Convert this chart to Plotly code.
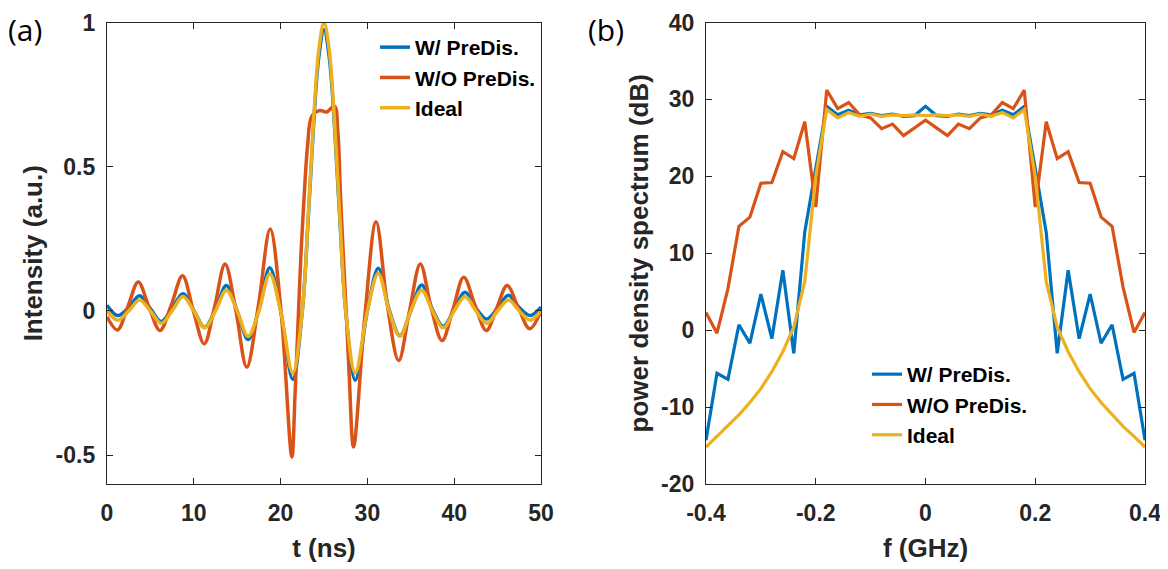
import plotly.graph_objects as go

# ---------------- Panel (a): time domain ----------------
t_a = [0, 1.25, 2.5, 3.75, 5, 6.25, 7.5, 8.75, 10, 11.25, 12.5, 13.75, 15, 16.25, 17.5,
       18.75, 20, 21.4, 22.5, 23.2, 23.75, 24.4, 25, 25.6, 26.25, 26.8, 27.5, 28.6, 30,
       31.25, 32.5, 33.75, 35, 36.25, 37.5, 38.75, 40, 41.25, 42.5, 43.75, 45, 46.25,
       47.5, 48.75, 50]
ideal_a = [0.0, -0.032, 0.0, 0.038, 0.0, -0.043, 0.0, 0.05, 0.0, -0.058, 0.0, 0.072, 0.0,
           -0.088, 0.0, 0.128, 0.0, -0.215, 0.0, 0.34, 0.635, 0.905, 1.0, 0.905, 0.635,
           0.34, 0.0, -0.215, 0.0, 0.13, 0.0, -0.088, 0.0, 0.072, 0.0, -0.058, 0.0, 0.05,
           0.0, -0.043, 0.0, 0.038, 0.0, -0.032, 0.0]
with_a = [0.02, -0.016, 0.012, 0.053, 0.008, -0.037, 0.008, 0.06, 0.002, -0.057, 0.005,
          0.088, 0.0, -0.099, 0.005, 0.15, 0.0, -0.237, 0.0, 0.33, 0.62, 0.88, 0.975, 0.88,
          0.62, 0.33, 0.0, -0.24, 0.0, 0.148, 0.005, -0.086, 0.0, 0.09, 0.005, -0.053,
          0.005, 0.065, 0.01, -0.028, 0.01, 0.054, 0.012, -0.016, 0.013]
t_wo = [0, 1.2, 2.4, 3.6, 4.85, 6.1, 7.4, 8.7, 9.95, 11.2, 12.4, 13.6, 14.85, 16.1, 17.45,
        18.8, 20.05, 21.3, 21.65, 22.0, 22.35, 22.7, 23.1, 23.6, 24.5, 25.3, 26.2, 26.6,
        26.9, 27.25, 27.55, 27.9, 28.4, 29.7, 31.0, 32.3, 33.6, 34.85, 36.1, 37.35, 38.6,
        39.85, 41.1, 42.4, 43.7, 44.9, 46.1, 47.4, 48.7, 50]
without_a = [-0.02, -0.066, 0.015, 0.1, 0.012, -0.068, 0.02, 0.122, 0.0, -0.114, 0.015,
             0.163, 0.0, -0.195, 0.02, 0.284, 0.0, -0.506, -0.3, -0.05, 0.2, 0.39, 0.57,
             0.675, 0.695, 0.69, 0.71, 0.62, 0.4, 0.18, 0.0, -0.22, -0.472, -0.02, 0.309,
             0.02, -0.172, 0.0, 0.163, 0.01, -0.103, 0.005, 0.117, 0.02, -0.068, 0.01,
             0.088, 0.01, -0.062, 0.0]

# ---------------- Panel (b): spectrum ----------------
f_b = [-0.40, -0.38, -0.36, -0.34, -0.32, -0.30, -0.28, -0.26, -0.24, -0.22, -0.20,
       -0.18, -0.16, -0.14, -0.12, -0.10, -0.08, -0.06, -0.04, -0.02, 0.0, 0.02, 0.04,
       0.06, 0.08, 0.10, 0.12, 0.14, 0.16, 0.18, 0.20, 0.22, 0.24, 0.26, 0.28, 0.30,
       0.32, 0.34, 0.36, 0.38, 0.40]
with_b = [-14.3, -5.6, -6.4, 0.7, -1.7, 4.7, -1.1, 7.8, -3.0, 12.8, 21.0, 29.1, 28.0,
          28.6, 28.0, 28.2, 27.9, 28.1, 27.8, 27.9, 29.1, 27.9, 27.8, 28.1, 27.9, 28.2,
          28.0, 28.6, 28.0, 29.1, 21.0, 12.7, -3.0, 7.8, -1.1, 4.7, -1.7, 0.7, -6.4, -5.6,
          -14.3]
without_b = [2.3, -0.4, 5.4, 13.5, 14.7, 19.1, 19.2, 23.2, 22.3, 27.1, 16.0, 31.2, 28.8,
             29.6, 28.0, 27.6, 26.2, 26.8, 25.3, 26.3, 27.3, 26.3, 25.3, 26.8, 26.2, 27.6,
             28.0, 29.6, 28.8, 31.2, 16.0, 27.1, 22.3, 23.2, 19.2, 19.1, 14.7, 13.5, 5.6,
             -0.3, 2.3]
ideal_b = [-15.2, -13.8, -12.5, -11.0, -9.4, -7.6, -5.4, -2.8, 0.4, 6.3, 20.0, 28.7, 27.6,
           28.3, 27.8, 28.1, 27.8, 28.0, 27.9, 28.0, 27.9, 28.0, 27.9, 28.0, 27.8, 28.1,
           27.8, 28.3, 27.6, 28.7, 20.0, 6.3, 0.4, -2.8, -5.4, -7.6, -9.4, -11.0, -12.5,
           -13.8, -15.2]

names = ["W/ PreDis.", "W/O PreDis.", "Ideal"]
colors = ["#0072BD", "#D95319", "#EDB120"]

xa_ticks = [0, 10, 20, 30, 40, 50]
xa_text = ["0", "10", "20", "30", "40", "50"]
ya_ticks = [-0.5, 0, 0.5, 1]
ya_text = ["-0.5", "0", "0.5", "1"]
xb_ticks = [-0.4, -0.2, 0, 0.2, 0.4]
xb_text = ["-0.4", "-0.2", "0", "0.2", "0.4"]
yb_ticks = [-20, -10, 0, 10, 20, 30, 40]
yb_text = ["-20", "-10", "0", "10", "20", "30", "40"]

W, H = 1168, 569
OFF = 8  # page body margin offset
FONT = "Liberation Sans, Arial, Helvetica, sans-serif"
AX = "#262626"


def px(x):
    return (x - OFF) / W


def py(y):
    return 1 - (y - OFF) / H


fig = go.Figure()

series_a = [(t_a, with_a), (t_wo, without_a), (t_a, ideal_a)]
for (xs, ys), nm, c in zip(series_a, names, colors):
    fig.add_trace(go.Scatter(x=xs, y=ys, mode="lines", name=nm,
                             line=dict(color=c, width=3.5, shape="spline", smoothing=1.0),
                             xaxis="x", yaxis="y", legend="legend", legendgroup=nm + "a"))

series_b = [with_b, without_b, ideal_b]
for ys, nm, c in zip(series_b, names, colors):
    fig.add_trace(go.Scatter(x=f_b, y=ys, mode="lines", name=nm,
                             line=dict(color=c, width=3.2),
                             xaxis="x2", yaxis="y2", legend="legend2", legendgroup=nm + "b"))


def axis(domain, rng, tv, tt, title, anchor, standoff, tls):
    return dict(domain=domain, range=rng, tickvals=tv, ticktext=tt, anchor=anchor,
                automargin=False,
                showline=True, linecolor=AX, linewidth=1.3, mirror="ticks",
                ticks="inside", ticklen=6, tickwidth=1.2, tickcolor=AX,
                showgrid=False, zeroline=False, ticklabelstandoff=tls,
                tickfont=dict(family=FONT, size=23, color=AX, weight="bold"),
                title=dict(text=title, standoff=standoff,
                           font=dict(family=FONT, size=26, color=AX, weight="bold")))


ydom = [py(484), py(22.5)]
fig.update_layout(
    template="none",
    width=W, height=H, margin=dict(l=0, r=0, t=0, b=0, pad=0),
    plot_bgcolor="white", paper_bgcolor="white",
    xaxis=axis([px(107), px(541)], [0, 50], xa_ticks, xa_text, "t (ns)", "y", 14, 8),
    yaxis=axis(ydom, [-0.6, 1], ya_ticks, ya_text, "Intensity (a.u.)", "x", 5, 6),
    xaxis2=axis([px(706), px(1145)], [-0.4, 0.4], xb_ticks, xb_text, "f (GHz)", "y2", 14, 8),
    yaxis2=axis(ydom, [-20, 40], yb_ticks, yb_text, "power density spectrum (dB)", "x2", 4, 6),
    legend=dict(x=px(375), y=py(27), xanchor="left", yanchor="top",
                bgcolor="rgba(0,0,0,0)", traceorder="grouped", tracegroupgap=0,
                font=dict(family=FONT, size=21, color="black", weight="bold")),
    legend2=dict(x=px(867), y=py(354), xanchor="left", yanchor="top",
                 bgcolor="rgba(0,0,0,0)", traceorder="grouped", tracegroupgap=0,
                 font=dict(family=FONT, size=21, color="black", weight="bold")),
    annotations=[
        dict(text="(a)", x=px(25), y=1.0, xref="paper", yref="paper",
             xanchor="center", yanchor="top", borderpad=0,
             showarrow=False, font=dict(family="Open Sans, sans-serif", size=30, color="black")),
        dict(text="(b)", x=px(606), y=1.0, xref="paper", yref="paper",
             xanchor="center", yanchor="top", borderpad=0,
             showarrow=False, font=dict(family="Open Sans, sans-serif", size=30, color="black")),
    ],
)

fig.write_html("out.html")
